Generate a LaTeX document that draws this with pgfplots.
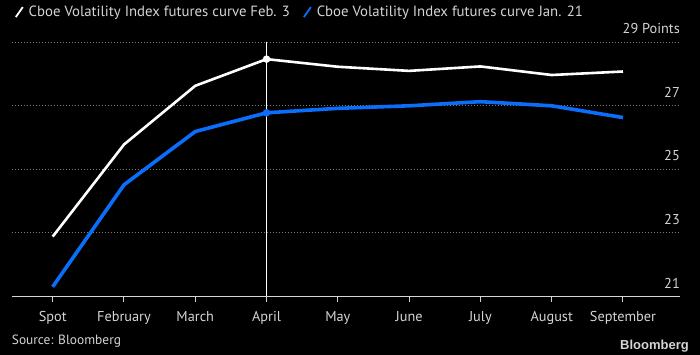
\documentclass[border=0pt]{standalone}
\usepackage{pgfplots}
\pgfplotsset{compat=1.18}
\usepackage{fontspec}
\setmainfont{PT Sans}
\newfontfamily\bbfont{Liberation Sans}
\definecolor{bblue}{HTML}{0A6EFA}
\definecolor{txtgray}{HTML}{D4D4D4}
\definecolor{gridgray}{HTML}{7A7A7A}
\begin{document}
\begin{tikzpicture}[x=1pt,y=1pt]
\fill[black] (0,0) rectangle (700,355);
\useasboundingbox (0,0) rectangle (700,355);
\begin{axis}[
  at={(11.7pt,58.7pt)}, anchor=south west,
  scale only axis, width=668.3pt, height=254pt,
  xmin=-0.575, xmax=8.8, ymin=21, ymax=29,
  axis x line*=bottom, axis y line*=right,
  y axis line style={draw=none},
  x axis line style={-, draw=txtgray, line width=1.2pt},
  xtick={0,...,8},
  xticklabels={Spot,February,March,April,May,June,July,August,September},
  xtick align=outside, major tick length=5.7pt,
  xtick style={draw=txtgray, line width=1pt},
  xticklabel style={yshift=-6pt},
  ytick={21,23,25,27,29},
  yticklabels={21,23,25,27,29 Points},
  ytick style={draw=none},
  yticklabel style={anchor=south east, inner sep=0pt, yshift=8pt},
  ymajorgrids,
  major grid style={gridgray, dash pattern=on 1pt off 2pt, line width=0.9pt},
  every tick label/.append style={font=\fontsize{14.3}{16}\selectfont, text=txtgray},
  legend style={draw=none, fill=none, text=txtgray, legend columns=-1,
    font=\fontsize{14.8}{16}\selectfont,
    at={(axis description cs:0,1.119)}, anchor=west,
    /tikz/every odd column/.append style={column sep=3pt},
    /tikz/every even column/.append style={column sep=11pt}},
  legend image code/.code={\draw[#1, line width=1.8pt] (0pt,-5pt) -- (7pt,5pt);},
]
\addplot[white, line width=1pt, forget plot] coordinates {(3,21) (3,29)};
\addplot[white, line width=2.6pt] coordinates {(0,22.88)(1,25.78)(2,27.63)(3,28.47)(4,28.23)(5,28.10)(6,28.24)(7,27.97)(8,28.08)};
\addlegendentry{Cboe Volatility Index futures curve Feb. 3}
\addplot[bblue, line width=3.6pt] coordinates {(0,21.30)(1,24.51)(2,26.19)(3,26.78)(4,26.92)(5,27.00)(6,27.13)(7,27.00)(8,26.63)};
\addlegendentry{Cboe Volatility Index futures curve Jan. 21}
\addplot[white, only marks, mark=*, mark size=3.5pt, forget plot] coordinates {(3,28.47)};
\addplot[bblue, only marks, mark=*, mark size=3.5pt, forget plot] coordinates {(3,26.78)};
\end{axis}
\node[anchor=west, text=txtgray, font=\fontsize{13.4}{15}\selectfont, inner sep=0pt] at (11.7,14) {Source: Bloomberg};
\node[anchor=east, text=txtgray, font=\bbfont\bfseries\fontsize{13}{15}\selectfont, inner sep=0pt] at (689,9.3) {Bloomberg};
\end{tikzpicture}
\end{document}
